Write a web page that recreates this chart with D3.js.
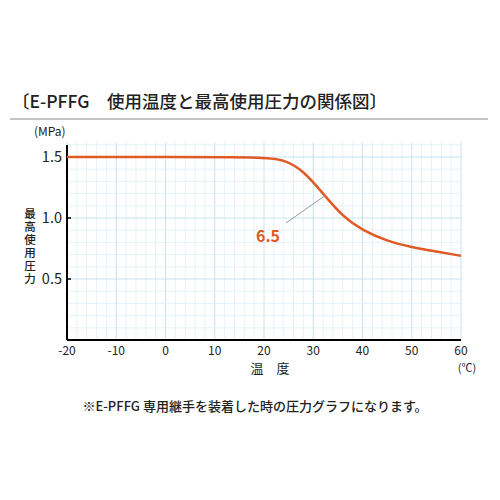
<!DOCTYPE html>
<html><head><meta charset="utf-8">
<script src="https://cdn.jsdelivr.net/npm/d3@7"></script>
<style>body{margin:0;background:#fff}text{font-family:"Noto Sans CJK JP","Noto Sans",sans-serif}</style>
</head><body><svg id="c" width="500" height="500"></svg>
<script>
// temperature (°C) vs max working pressure (MPa)
const temps = [-20, 0, 20, 24, 28, 32, 36, 40, 45, 50, 55, 60];
const pressures = [1.5, 1.5, 1.5, 1.48, 1.39, 1.2, 1.01, 0.9, 0.81, 0.76, 0.725, 0.69];
const xTicks = [-20, -10, 0, 10, 20, 30, 40, 50, 60];
const yTicks = [0.5, 1.0, 1.5];
const callout = { t: 32, p: 1.2, label: "6.5" };

const svg = d3.select("#c");
const x = d3.scaleLinear().domain([-20, 60]).range([67, 461]);
const y = d3.scaleLinear().domain([0, 1.5]).range([340, 157]);

svg.append("text").attr("x", 12).attr("y", 108).attr("font-size", 17.5).attr("font-weight", 500).attr("fill", "#222")
  .text("〔E-PFFG　使用温度と最高使用圧力の関係図〕");
svg.append("line").attr("x1", 10).attr("x2", 488).attr("y1", 119).attr("y2", 119)
  .attr("stroke", "#888").attr("stroke-width", 1);

const g = svg.append("g");
// grid
d3.range(-20, 61, 2).forEach(v => g.append("line").attr("x1", x(v)).attr("x2", x(v))
  .attr("y1", y(1.62)).attr("y2", y(0)).attr("stroke", v % 10 === 0 ? "#b9dcec" : "#dfeff6").attr("stroke-width", 0.8));
d3.range(0, 1.65, 0.1).forEach(v => {
  const major = Math.abs(v * 2 - Math.round(v * 2)) < 1e-6;
  g.append("line").attr("x1", x(-20)).attr("x2", x(60)).attr("y1", y(v)).attr("y2", y(v))
    .attr("stroke", major ? "#b9dcec" : "#dfeff6").attr("stroke-width", 0.8);
});

// axes
g.append("line").attr("x1", x(-20)).attr("x2", x(-20)).attr("y1", 145).attr("y2", y(0)).attr("stroke", "#000").attr("stroke-width", 2);
g.append("line").attr("x1", x(-20)).attr("x2", x(60)).attr("y1", y(0)).attr("y2", y(0)).attr("stroke", "#000").attr("stroke-width", 2);

g.selectAll(".xt").data(xTicks).join("text").attr("x", d => x(d)).attr("y", 355)
  .attr("text-anchor", "middle").attr("font-size", 12).attr("fill", "#222").text(d => d);
g.selectAll(".yt").data(yTicks).join("text").attr("x", 62).attr("y", d => y(d) + 5)
  .attr("text-anchor", "end").attr("font-size", 14.5).attr("fill", "#222").text(d => d.toFixed(1));
g.selectAll(".ytk").data(yTicks).join("line").attr("x1", x(-20)).attr("x2", x(-20) + 4)
  .attr("y1", d => y(d)).attr("y2", d => y(d)).attr("stroke", "#000").attr("stroke-width", 1.5);

svg.append("text").attr("x", 34).attr("y", 136).attr("font-size", 12).attr("fill", "#222").text("(MPa)");
"最高使用圧力".split("").forEach((c, i) => svg.append("text").attr("x", 30).attr("y", 218 + i * 13)
  .attr("text-anchor", "middle").attr("font-size", 11.5).attr("font-weight", 500).attr("fill", "#222").text(c));
svg.append("text").attr("x", 270).attr("y", 373).attr("text-anchor", "middle").attr("font-size", 13)
  .attr("fill", "#222").text("温　度");
svg.append("text").attr("x", 467).attr("y", 372).attr("text-anchor", "middle").attr("font-size", 11)
  .attr("fill", "#222").text("(℃)");

// curve
const line = d3.line().x((d, i) => x(temps[i])).y(d => y(d)).curve(d3.curveBasis);
g.append("path").attr("d", line(pressures)).attr("fill", "none").attr("stroke", "#e05a25").attr("stroke-width", 2.5);

// callout
g.append("line").attr("x1", x(callout.t) + 2).attr("y1", y(callout.p) + 2).attr("x2", 286).attr("y2", 223)
  .attr("stroke", "#999").attr("stroke-width", 1);
g.append("text").attr("x", 268).attr("y", 242).attr("text-anchor", "middle").attr("font-size", 16)
  .attr("font-weight", "bold").attr("fill", "#e05a25").text(callout.label);

svg.append("text").attr("x", 255).attr("y", 411).attr("text-anchor", "middle").attr("font-size", 13)
  .attr("font-weight", 500).attr("fill", "#222").text("※E-PFFG 専用継手を装着した時の圧力グラフになります。");
</script></body></html>
